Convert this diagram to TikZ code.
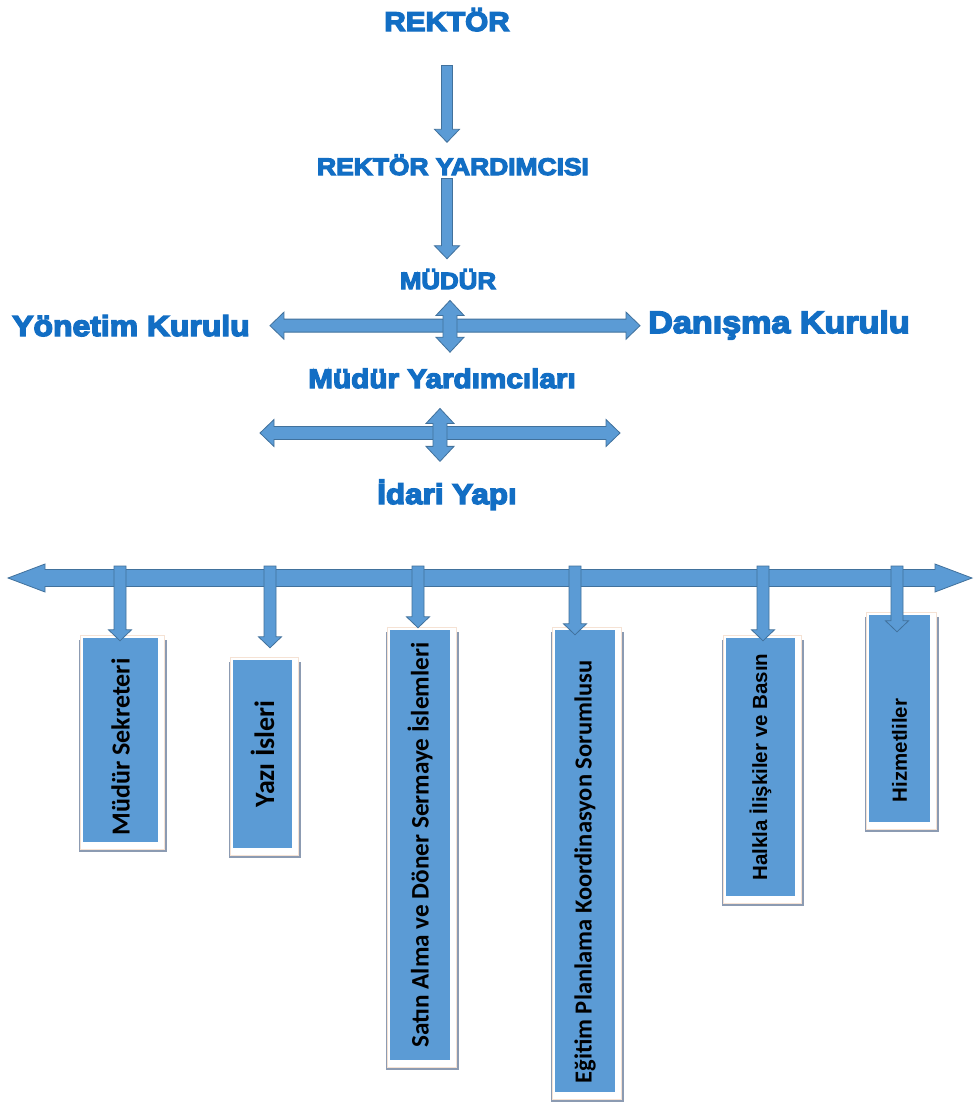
\documentclass[tikz,border=0pt]{standalone}
\usepackage{fontspec}
\usepackage{graphicx}
\usetikzlibrary{calc}
\newfontfamily\headfont[FakeStretch=1.1,FakeBold=5,BoldFeatures={FakeBold=5}]{Liberation Sans}
\newfontfamily\carlitofont{Carlito}
\newfontfamily\arialfont{Liberation Sans}
\definecolor{headblue}{RGB}{18,110,196}
\definecolor{arrfill}{RGB}{91,155,213}
\definecolor{arrline}{RGB}{65,113,156}
\definecolor{boxblue}{RGB}{91,155,213}
\definecolor{shadowgray}{RGB}{140,155,178}
\definecolor{framepeach}{RGB}{245,226,212}
\tikzset{
  head/.style={font=\headfont\bfseries\fontsize{#1}{#1}\selectfont, text=headblue, inner sep=0pt, anchor=base},
  blockarrow/.style={fill=arrfill, draw=arrline, line width=0.8pt, line join=miter},
  unit/.style={rectangle, fill=boxblue, inner sep=0pt, draw=none, text=black},
  boxframe/.style={fill=white, draw=framepeach, line width=0.8pt},
  carl/.style={font=\carlitofont\bfseries\fontsize{#1}{#1}\selectfont},
  ari/.style={font=\arialfont\bfseries\fontsize{#1}{#1}\selectfont}
}
% single-headed block arrow: start, end, half shaft, half head, head length
\newcommand{\barrowsingle}[5]{%
  \path (#1) coordinate (ba-s) (#2) coordinate (ba-e);
  \path ($(ba-e)!#5pt!(ba-s)$) coordinate (ba-b);
  \filldraw[blockarrow] ($(ba-s)!#3pt!90:(ba-e)$) -- ($(ba-b)!#3pt!90:(ba-e)$) -- ($(ba-b)!#4pt!90:(ba-e)$) -- (ba-e) -- ($(ba-b)!#4pt!-90:(ba-e)$) -- ($(ba-b)!#3pt!-90:(ba-e)$) -- ($(ba-s)!#3pt!-90:(ba-e)$) -- cycle;
}
% double-headed block arrow
\newcommand{\barrowdouble}[5]{%
  \path (#1) coordinate (ba-s) (#2) coordinate (ba-e);
  \path ($(ba-e)!#5pt!(ba-s)$) coordinate (ba-b) ($(ba-s)!#5pt!(ba-e)$) coordinate (ba-a);
  \filldraw[blockarrow] (ba-s) -- ($(ba-a)!#4pt!90:(ba-e)$) -- ($(ba-a)!#3pt!90:(ba-e)$) -- ($(ba-b)!#3pt!90:(ba-e)$) -- ($(ba-b)!#4pt!90:(ba-e)$) -- (ba-e) -- ($(ba-b)!#4pt!-90:(ba-e)$) -- ($(ba-b)!#3pt!-90:(ba-e)$) -- ($(ba-a)!#3pt!-90:(ba-e)$) -- ($(ba-a)!#4pt!-90:(ba-e)$) -- cycle;
}
% unit box: name, x1, y1, x2, y2, text, font style, shift
\newcommand{\unitbox}[8]{%
  \fill[shadowgray] (#2-4,#3+2) rectangle (#4+9,#5+10);
  \filldraw[boxframe] (#2-3,#3-3) rectangle (#4+6,#5+7);
  \node[unit, #7, minimum width={#4-#2}, minimum height={#5-#3}] (#1) at ({(#2+#4)/2},{(#3+#5)/2}) {\rotatebox{90}{#6\hspace*{#8pt}}};
}
\begin{document}
\begin{tikzpicture}[x=1pt,y=-1pt]
\useasboundingbox[fill=white] (0,0) rectangle (976,1106);

% headings
\node[head=27] (rektor) at (447,31) {REKTÖR};
\node[head=24] (ry) at (453,175) {REKTÖR YARDIMCISI};
\node[head=23.5] (mudur) at (448,289) {MÜDÜR};
\node[head=29] (yk) at (131,336) {Yönetim Kurulu};
\node[head=31] (dk) at (779,333) {Danışma Kurulu};
\node[head=27] (my) at (442,388) {Müdür Yardımcıları};
\node[head=28.5] (idari) at (447,504) {İdari Yapı};

% vertical chain
\barrowsingle{$(rektor.south)+(0,34)$}{$(rektor.south |- ry.north)+(0,-12)$}{5.5}{12.5}{13}
\barrowsingle{$(rektor.south |- ry.south)+(0,3)$}{$(rektor.south |- mudur.north)+(0,-10)$}{5.5}{12.5}{13}

% cross 1
\barrowdouble{$(yk.east)+(20,0)$}{$(yk.east -| dk.west)+(-8,0)$}{6.5}{13.5}{14}
\barrowdouble{$(mudur.south)+(2,11)$}{$(mudur.south |- my.north)+(2,-16)$}{7}{14}{15}

% cross 2
\coordinate (h2l) at (260,433);
\coordinate (h2r) at (620,433);
\barrowdouble{h2l}{h2r}{6.5}{13.5}{14}
\barrowdouble{$(my.south)+(-2,20)$}{$(my.south |- idari.north)+(-2,-18)$}{7}{14}{15}

% long bar
\coordinate (barL) at (8,578);
\coordinate (barR) at (972,578);
\barrowdouble{barL}{barR}{8.5}{14}{37}

% unit boxes
\unitbox{b1}{83}{638}{158}{842}{Müdür Sekreteri}{carl=26}{14}
\unitbox{b2}{233}{660}{292}{848}{Yazı İsleri}{carl=28}{0}
\unitbox{b3}{390}{630}{450}{1060}{Satın Alma ve Döner Sermaye İslemleri}{carl=25.2}{0}
\unitbox{b4}{555}{630}{615}{1092}{Eğitim Planlama Koordinasyon Sorumlusu}{carl=24.5}{22}
\unitbox{b5}{726}{638}{795}{896}{Halkla İlişkiler ve Basın}{ari=20.5}{0}
\unitbox{b6}{869}{615}{930}{822}{Hizmetliler}{ari=20.5}{64}

% drop arrows
\coordinate (d1) at (120,566);
\coordinate (d2) at (270,566);
\coordinate (d3) at (418,566);
\coordinate (d4) at (575,566);
\coordinate (d5) at (763,566);
\coordinate (d6) at (897,566);
\barrowsingle{d1}{$(d1 |- b1.north)+(0,3)$}{6}{11.5}{11}
\barrowsingle{d2}{$(d2 |- b2.north)+(0,-12)$}{6}{11.5}{11}
\barrowsingle{d3}{$(d3 |- b3.north)+(0,-2)$}{6}{11.5}{11}
\barrowsingle{d4}{$(d4 |- b4.north)+(0,5)$}{6}{11.5}{11}
\barrowsingle{d5}{$(d5 |- b5.north)+(0,3)$}{6}{11.5}{11}
\barrowsingle{d6}{$(d6 |- b6.north)+(0,17)$}{6}{11.5}{11}
\end{tikzpicture}
\end{document}
